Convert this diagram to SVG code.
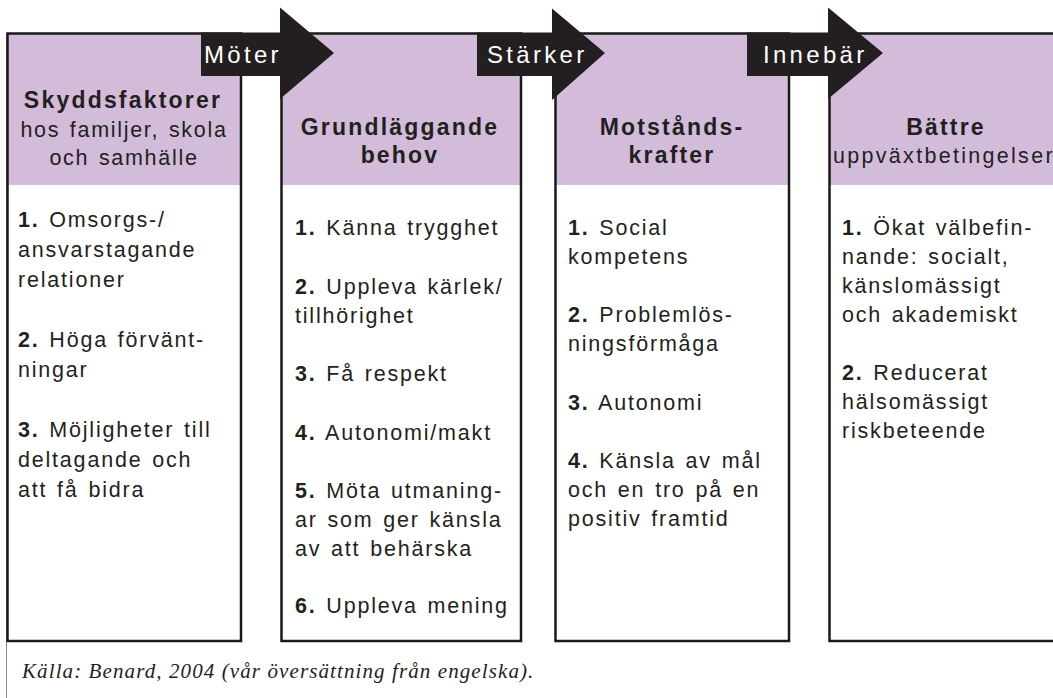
<svg xmlns="http://www.w3.org/2000/svg" width="1053" height="698" viewBox="0 0 1053 698">
<style>
.bg{fill:#ffffff}
.hdr{fill:#d2bcda}
.box{fill:none;stroke:#1a1a1a;stroke-width:2.5}
.arrow{fill:#231f20}
.h{font-family:"Liberation Sans",Arial,sans-serif;font-size:23px;font-weight:bold;fill:#231f20;letter-spacing:2.2px;text-anchor:middle}
.hs{font-family:"Liberation Sans",Arial,sans-serif;font-size:21.5px;fill:#231f20;letter-spacing:1.7px;word-spacing:2px;text-anchor:middle}
.t{font-family:"Liberation Sans",Arial,sans-serif;font-size:21.5px;fill:#231f20;letter-spacing:1.8px;word-spacing:2px}
.n{font-weight:bold}
.lbl{font-family:"Liberation Sans",Arial,sans-serif;font-size:24px;fill:#ffffff;letter-spacing:3.3px}
.cap{font-family:"Liberation Serif","Times New Roman",serif;font-style:italic;font-size:21px;fill:#231f20;letter-spacing:1.1px}
.frame{stroke:#8a8a8a;stroke-width:1;fill:none}
</style>
<rect class="bg" x="0" y="0" width="1053" height="698"/>
<line class="frame" x1="6.5" y1="33" x2="6.5" y2="698"/>

<g id="node-skyddsfaktorer">
<rect class="bg" x="7.5" y="33.5" width="233.5" height="607.5"/>
<rect class="hdr" x="7.5" y="33.5" width="233.5" height="151.5"/>
<rect class="box" x="7.5" y="33.5" width="233.5" height="607.5"/>
<text class="h" x="123" y="108">Skyddsfaktorer</text>
<text class="hs" x="124" y="137">hos familjer, skola</text>
<text class="hs" x="124" y="165">och samhälle</text>
<text class="t" x="18" y="227"><tspan class="n">1.</tspan> Omsorgs-/</text>
<text class="t" x="18" y="257">ansvarstagande</text>
<text class="t" x="18" y="287">relationer</text>
<text class="t" x="18" y="347"><tspan class="n">2.</tspan> Höga förvänt-</text>
<text class="t" x="18" y="377">ningar</text>
<text class="t" x="18" y="437"><tspan class="n">3.</tspan> Möjligheter till</text>
<text class="t" x="18" y="467">deltagande och</text>
<text class="t" x="18" y="497">att få bidra</text>
</g>

<g id="node-grundlaggande">
<rect class="bg" x="281.5" y="33.5" width="239.5" height="607.5"/>
<rect class="hdr" x="281.5" y="33.5" width="239.5" height="151.5"/>
<rect class="box" x="281.5" y="33.5" width="239.5" height="607.5"/>
<text class="h" x="400" y="135">Grundläggande</text>
<text class="h" x="400" y="163">behov</text>
<text class="t" x="295" y="235"><tspan class="n">1.</tspan> Känna trygghet</text>
<text class="t" x="295" y="293.5"><tspan class="n">2.</tspan> Uppleva kärlek/</text>
<text class="t" x="295" y="322.5">tillhörighet</text>
<text class="t" x="295" y="381"><tspan class="n">3.</tspan> Få respekt</text>
<text class="t" x="295" y="439.5"><tspan class="n">4.</tspan> Autonomi/makt</text>
<text class="t" x="295" y="498"><tspan class="n">5.</tspan> Möta utmaning-</text>
<text class="t" x="295" y="527">ar som ger känsla</text>
<text class="t" x="295" y="556">av att behärska</text>
<text class="t" x="295" y="613"><tspan class="n">6.</tspan> Uppleva mening</text>
</g>

<g id="node-motstandskrafter">
<rect class="bg" x="555.5" y="33.5" width="233.5" height="607.5"/>
<rect class="hdr" x="555.5" y="33.5" width="233.5" height="151.5"/>
<rect class="box" x="555.5" y="33.5" width="233.5" height="607.5"/>
<text class="h" x="672" y="135">Motstånds-</text>
<text class="h" x="672" y="163">krafter</text>
<text class="t" x="568" y="235"><tspan class="n">1.</tspan> Social</text>
<text class="t" x="568" y="264">kompetens</text>
<text class="t" x="568" y="322"><tspan class="n">2.</tspan> Problemlös-</text>
<text class="t" x="568" y="351">ningsförmåga</text>
<text class="t" x="568" y="409.5"><tspan class="n">3.</tspan> Autonomi</text>
<text class="t" x="568" y="468"><tspan class="n">4.</tspan> Känsla av mål</text>
<text class="t" x="568" y="497">och en tro på en</text>
<text class="t" x="568" y="526">positiv framtid</text>
</g>

<g id="node-battre">
<rect class="bg" x="829.5" y="33.5" width="240" height="607.5"/>
<rect class="hdr" x="829.5" y="33.5" width="240" height="151.5"/>
<rect class="box" x="829.5" y="33.5" width="240" height="607.5"/>
<text class="h" x="946" y="135">Bättre</text>
<text class="hs" x="833" y="163" style="text-anchor:start;letter-spacing:2.3px">uppväxtbetingelser</text>
<text class="t" x="842" y="235"><tspan class="n">1.</tspan> Ökat välbefin-</text>
<text class="t" x="842" y="264">nande: socialt,</text>
<text class="t" x="842" y="293">känslomässigt</text>
<text class="t" x="842" y="322">och akademiskt</text>
<text class="t" x="842" y="380"><tspan class="n">2.</tspan> Reducerat</text>
<text class="t" x="842" y="409">hälsomässigt</text>
<text class="t" x="842" y="438">riskbeteende</text>
</g>

<g id="connectors">
<g id="arrow-moter">
<path class="arrow" d="M201,32.5 H280 V7.5 L334,53 L280,99 V76 H201 Z"/>
<text class="lbl" x="204" y="63">Möter</text>
</g>
<g id="arrow-starker">
<path class="arrow" d="M477,32.5 H552 V8.5 L605,53 L552,100 V76 H477 Z"/>
<text class="lbl" x="487" y="63">Stärker</text>
</g>
<g id="arrow-innebar">
<path class="arrow" d="M747,32.5 H828 V7.5 L883,53 L828,99 V76 H747 Z"/>
<text class="lbl" x="763" y="63">Innebär</text>
</g>
</g>

<text class="cap" x="22" y="678">Källa: Benard, 2004 (vår översättning från engelska).</text>
</svg>
